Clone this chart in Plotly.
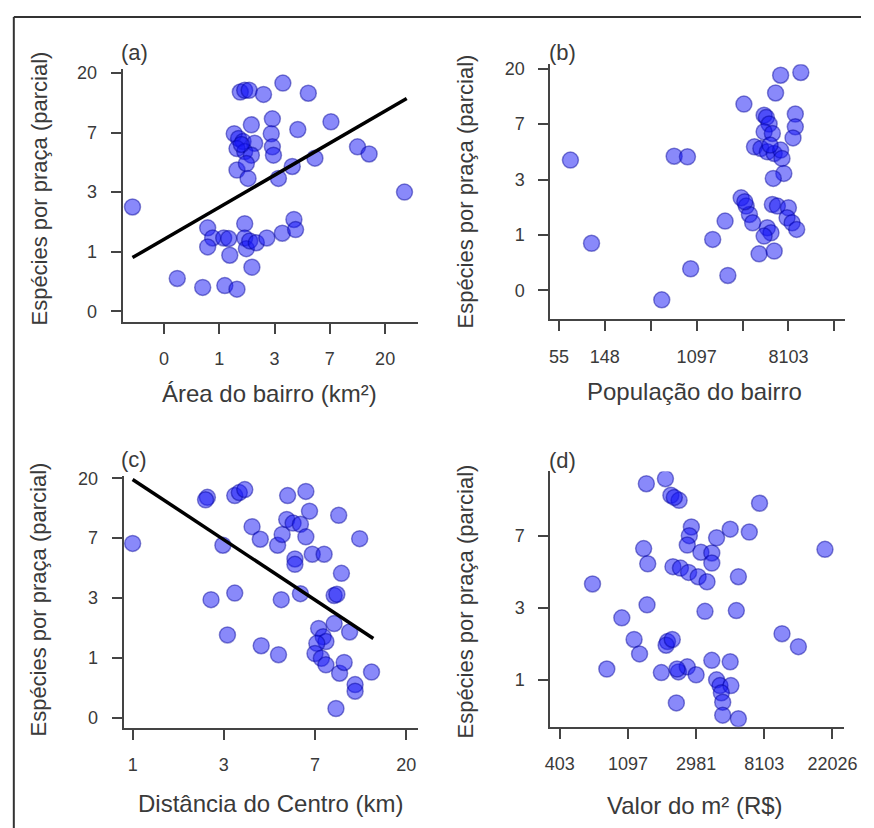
import plotly.graph_objects as go

W, H = 874, 828

# ---------------- data (log-transformed units as drawn) ----------------
# (a) Área do bairro
a_x = [-1.57, -0.76, -0.30, 0.10, 0.32, 0.59, -0.21, -0.12, -0.21, 0.08, 0.17, 0.19,
       0.46, 0.46, 0.49, 0.55, 0.67, 0.86, 1.14, 1.35, 1.38, 0.38, 0.46, 0.54, 0.80,
       1.15, 1.61, 2.02, 1.42, 0.96, 0.94, 0.96, 0.98, 0.58, 0.27, 0.35, 0.43, 0.64,
       0.32, 0.46, 0.58, 0.32, 0.49, 0.52, 1.07, 1.32, 1.73, 2.50, 2.71, 3.35, 0.40]
a_y = [0.75, -0.45, -0.60, -0.57, -0.63, -0.26, 0.40, 0.23, 0.08, 0.23, 0.22, -0.06,
       0.47, 0.23, 0.05, 0.18, 0.15, 0.23, 0.31, 0.54, 0.37, 2.68, 2.71, 2.71, 2.64,
       2.83, 2.66, 2.18, 2.05, 2.23, 1.98, 1.76, 1.62, 2.13, 1.98, 1.90, 1.85, 1.82,
       1.73, 1.68, 1.62, 1.37, 1.48, 1.23, 1.23, 1.43, 1.57, 1.76, 1.64, 1.00, 1.80]
a_fit_x = [-1.57, 3.39]
a_fit_y = [-0.10, 2.57]

# (b) População do bairro
b_x = [4.25, 4.71, 6.51, 6.80, 6.24, 6.87, 7.35, 7.62, 7.68, 8.03, 8.83, 9.27, 8.72,
       8.47, 8.52, 8.58, 8.47, 8.65, 8.26, 8.40, 8.54, 8.69, 8.83, 8.86, 8.90, 8.67,
       9.15, 9.15, 9.10, 7.97, 8.08, 8.15, 8.22, 8.65, 8.76, 8.54, 8.62, 8.47, 8.36,
       8.69, 9.00, 8.97, 9.08, 9.18, 8.60, 8.05]
b_y = [1.35, -0.15, 1.42, 1.41, -1.17, -0.61, -0.08, 0.25, -0.73, 2.36, 2.88, 2.93,
       2.56, 2.16, 2.12, 2.00, 1.86, 1.83, 1.59, 1.56, 1.50, 1.47, 1.53, 1.38, 1.11,
       1.02, 2.18, 1.95, 1.75, 0.67, 0.52, 0.37, 0.22, 0.55, 0.52, 0.13, 0.04, -0.02,
       -0.34, -0.29, 0.49, 0.31, 0.22, 0.10, 1.62, 0.60]

# (c) Distância do Centro
c_x = [0.00, 0.82, 0.80, 1.12, 1.17, 1.23, 1.70, 1.90, 1.94, 2.26, 2.49, 1.31, 1.40,
       0.99, 1.59, 1.64, 1.69, 1.76, 1.84, 1.90, 1.97, 2.10, 1.78, 1.78, 2.29, 0.86,
       1.12, 1.63, 1.84, 2.21, 2.24, 1.04, 1.41, 1.60, 2.04, 2.21, 2.38, 2.09, 2.12,
       2.02, 2.00, 2.07, 2.12, 2.27, 2.32, 2.62, 2.44, 2.44, 2.23]
c_y = [1.91, 2.68, 2.64, 2.71, 2.76, 2.81, 2.71, 2.78, 2.45, 2.38, 1.99, 2.19, 1.98,
       1.88, 1.88, 2.06, 2.31, 2.25, 2.23, 2.02, 1.73, 1.73, 1.65, 1.56, 1.41, 0.97,
       1.08, 0.97, 1.07, 1.04, 1.06, 0.38, 0.20, 0.05, 0.49, 0.57, 0.43, 0.35, 0.27,
       0.24, 0.07, -0.01, -0.12, -0.26, -0.08, -0.24, -0.45, -0.56, -0.85]
c_fit_x = [0.00, 2.64]
c_fit_y = [2.98, 0.32]

# (d) Valor do m²
d_x = [7.27, 7.55, 7.63, 7.75, 7.68, 8.93, 9.89, 7.93, 7.90, 7.87, 8.07, 8.23, 8.23,
       8.30, 8.50, 8.78, 7.23, 7.29, 6.48, 7.66, 7.77, 7.89, 8.03, 8.16, 8.62, 7.28,
       8.13, 8.59, 6.91, 9.26, 9.50, 7.09, 7.17, 7.58, 7.56, 7.65, 6.69, 7.49, 7.74,
       7.87, 8.00, 8.23, 8.50, 8.30, 8.35, 8.51, 8.37, 8.39, 7.71, 8.39, 8.62, 7.72]
d_y = [2.72, 2.79, 2.56, 2.49, 2.53, 2.45, 1.81, 2.12, 2.00, 1.87, 1.77, 1.76, 1.62,
       1.97, 2.09, 2.05, 1.82, 1.61, 1.33, 1.57, 1.55, 1.49, 1.43, 1.36, 1.43, 1.04,
       0.95, 0.96, 0.86, 0.64, 0.46, 0.56, 0.36, 0.53, 0.48, 0.56, 0.15, 0.10, 0.11,
       0.18, 0.07, 0.27, 0.25, 0.00, -0.08, -0.08, -0.18, -0.31, -0.32, -0.49, -0.54, 0.15]

y_tickvals = [-1, 0, 1, 2, 3]
y_ticktext = ["0", "1", "3", "7", "20"]
a_tickvals = [-1, 0, 1, 2, 3]
a_ticktext = ["0", "1", "3", "7", "20"]
b_tickvals = [4, 5, 6, 7, 8, 9, 10]
b_ticktext = ["55", "148", "", "1097", "", "8103", ""]
c_tickvals = [0, 1, 2, 3]
c_ticktext = ["1", "3", "7", "20"]
d_tickvals = [6, 7, 8, 9, 10]
d_ticktext = ["403", "1097", "2981", "8103", "22026"]
d_ytickvals = [0, 1, 2]
d_yticktext = ["1", "3", "7"]

panel_letters = ["(a)", "(b)", "(c)", "(d)"]
x_titles = ["Área do bairro (km²)", "População do bairro",
            "Distância do Centro (km)", "Valor do m² (R$)"]
y_title = "Espécies por praça (parcial)"

# ---------------- style ----------------
FONT = "Liberation Sans, Arial, sans-serif"
TXT = "#3a3a3a"
AX = "#444444"
marker = dict(size=16, color="rgba(20,20,245,0.5)",
              line=dict(color="rgba(0,0,150,0.45)", width=1.5))

def px(x):
    return x / W

def py(y):
    return 1 - y / H

# panel boxes in pixels: (left, right, top, bottom)
boxes = [(120, 422, 62, 317), (556.7, 858, 56.7, 314.3),
         (121, 421.7, 473, 726.7), (556.7, 856.7, 468, 725.7)]
xranges = [[-1.75, 3.60], [3.81, 10.24], [-0.10, 3.13], [5.86, 10.17]]
yranges = [[-1.18, 3.06], [-1.52, 3.08], [-1.17, 3.03], [-0.65, 2.89]]
xticks = [(a_tickvals, a_ticktext), (b_tickvals, b_ticktext),
          (c_tickvals, c_ticktext), (d_tickvals, d_ticktext)]
yticks = [(y_tickvals, y_ticktext), (y_tickvals, y_ticktext),
          (y_tickvals, y_ticktext), (d_ytickvals, d_yticktext)]

fig = go.Figure()
series = [(a_x, a_y), (b_x, b_y), (c_x, c_y), (d_x, d_y)]
fits = {0: (a_fit_x, a_fit_y), 2: (c_fit_x, c_fit_y)}

layout = dict(width=W, height=H, margin=dict(l=0, r=0, t=0, b=0, pad=0),
              paper_bgcolor="white", plot_bgcolor="white", showlegend=False)

annotations = []
for i in range(4):
    sfx = "" if i == 0 else str(i + 1)
    xa, ya = "x" + sfx, "y" + sfx
    xs, ys = series[i]
    fig.add_trace(go.Scatter(x=xs, y=ys, mode="markers", marker=marker,
                             xaxis=xa, yaxis=ya, hoverinfo="skip"))
    if i in fits:
        fx, fy = fits[i]
        fig.add_trace(go.Scatter(x=fx, y=fy, mode="lines",
                                 line=dict(color="black", width=3.5),
                                 xaxis=xa, yaxis=ya, hoverinfo="skip"))
    l, r, t, b = boxes[i]
    common = dict(showgrid=False, zeroline=False, showline=True, linecolor=AX,
                  linewidth=1.8, mirror=False, ticks="outside", ticklen=10,
                  tickwidth=1.5, tickcolor=AX,
                  tickfont=dict(family=FONT, size=18, color=TXT))
    layout["xaxis" + sfx] = dict(common, domain=[px(l), px(r)], range=xranges[i],
                                 anchor=ya, tickmode="array",
                                 tickvals=xticks[i][0], ticktext=xticks[i][1],
                                 ticklabelstandoff=10)
    layout["yaxis" + sfx] = dict(common, domain=[py(b), py(t)], range=yranges[i],
                                 anchor=xa, tickmode="array",
                                 tickvals=yticks[i][0], ticktext=yticks[i][1],
                                 ticklabelstandoff=10)

# text positions (pixels)
letter_pos = [(132, 45), (569, 45), (132, 456), (569, 457)]
xtitle_pos = [(270, 389), (704, 387), (271, 803), (704, 805)]
ytitle_pos = [(35, 182), (470, 185), (34, 597), (470, 599)]
for i in range(4):
    lx, ly = letter_pos[i]
    annotations.append(dict(x=px(lx), y=py(ly), xref="paper", yref="paper",
                            text=panel_letters[i], showarrow=False,
                            font=dict(family=FONT, size=22, color=TXT),
                            xanchor="center", yanchor="middle"))
    tx, ty = xtitle_pos[i]
    annotations.append(dict(x=px(tx), y=py(ty), xref="paper", yref="paper",
                            text=x_titles[i], showarrow=False,
                            font=dict(family=FONT, size=24, color=TXT),
                            xanchor="center", yanchor="middle"))
    vx, vy = ytitle_pos[i]
    annotations.append(dict(x=px(vx), y=py(vy), xref="paper", yref="paper",
                            text=y_title, showarrow=False, textangle=-90,
                            font=dict(family=FONT, size=22, color=TXT),
                            xanchor="center", yanchor="middle"))

layout["annotations"] = annotations
layout["shapes"] = [
    dict(type="line", xref="paper", yref="paper", x0=px(9), x1=1, y0=py(9), y1=py(9),
         line=dict(color="#333333", width=2)),
    dict(type="line", xref="paper", yref="paper", x0=px(9), x1=px(9), y0=py(9), y1=0,
         line=dict(color="#333333", width=2)),
]

fig.update_layout(**layout)

post = (
    "var s=document.createElement('style');"
    "s.innerHTML='html,body{margin:0!important;padding:0!important;overflow:hidden!important;}"
    ".plotly-graph-div{position:absolute!important;left:0!important;top:0!important;}';"
    "document.head.appendChild(s);"
)
fig.write_html(
    "out.html",
    config={"displayModeBar": False, "responsive": False},
    post_script=post,
)
